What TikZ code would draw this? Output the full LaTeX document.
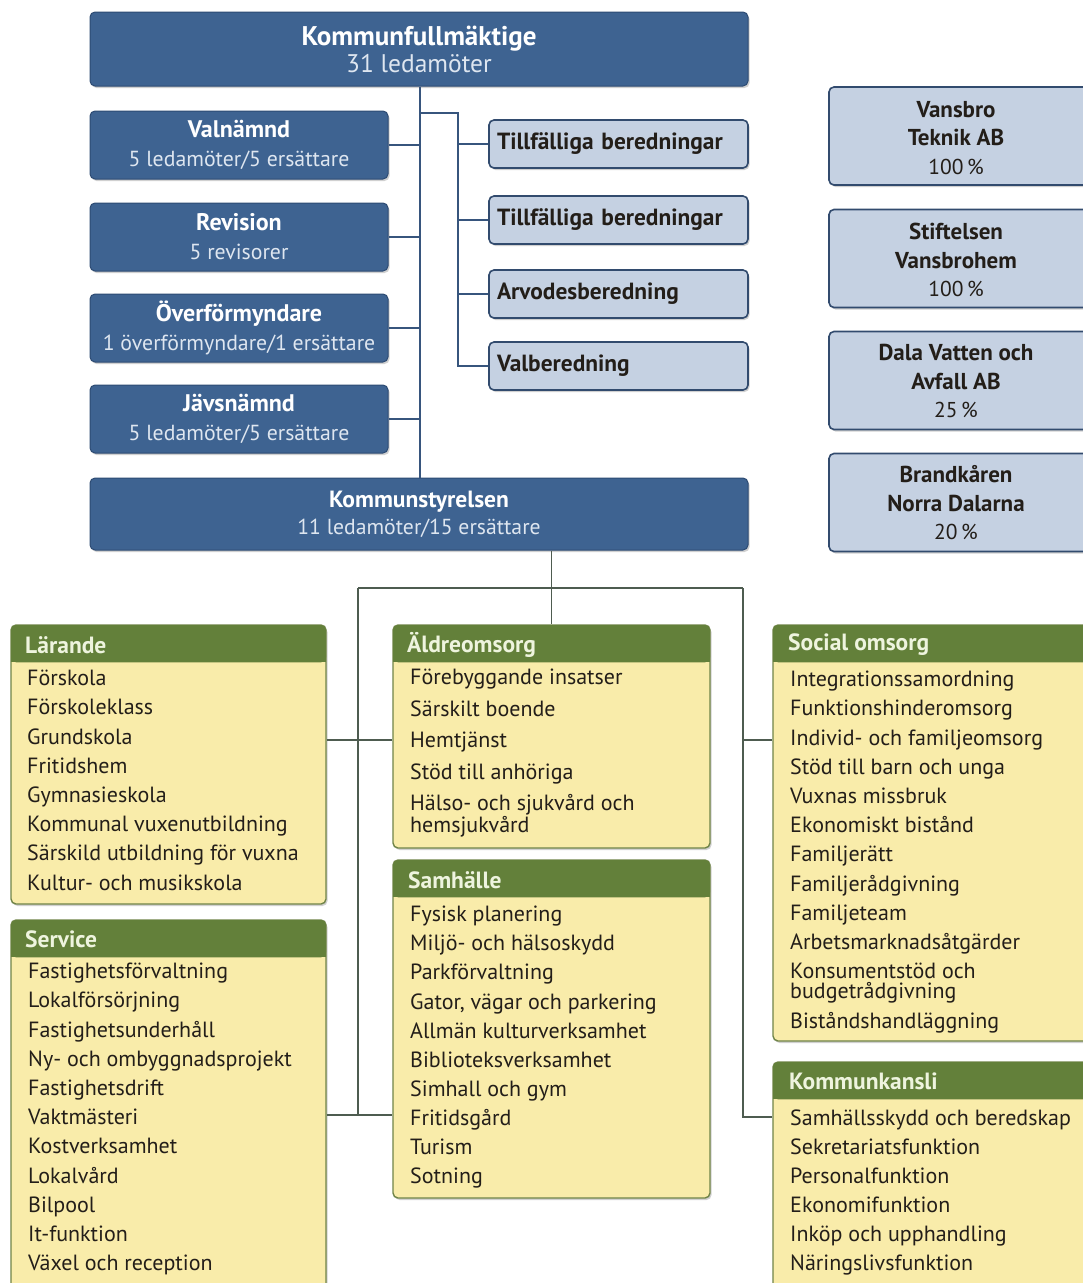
\documentclass[tikz,border=0pt]{standalone}
\usepackage{fontspec}
\setmainfont{PT Sans}
\usetikzlibrary{shadows}
\definecolor{kblue}{RGB}{62,99,145}
\definecolor{kbluedk}{RGB}{45,75,115}
\definecolor{lblue}{RGB}{197,209,226}
\definecolor{lbluedk}{RGB}{50,75,110}
\definecolor{hgreen}{RGB}{99,128,58}
\definecolor{gborder}{RGB}{112,132,72}
\definecolor{kyellow}{RGB}{249,236,170}
\definecolor{hdrtext}{RGB}{238,244,222}
\definecolor{subtext}{RGB}{222,230,240}
\definecolor{linetop}{RGB}{55,85,125}
\definecolor{linebot}{RGB}{78,92,80}
\definecolor{ktext}{RGB}{35,30,25}
\begin{document}
\begin{tikzpicture}[x=1pt,y=-1pt,
  shd/.style={drop shadow={shadow xshift=1.5pt,shadow yshift=-2pt,opacity=0.3,fill=black!60}},
  bluebox/.style={draw=kbluedk,line width=1pt,fill=kblue,rounded corners=5pt,text=subtext,align=center,inner sep=0pt,shd},
  lbox/.style={draw=lbluedk,line width=1.6pt,fill=lblue,rounded corners=5pt,text=ktext,align=left,inner xsep=8pt,inner ysep=0pt,text width=243pt,minimum width=259pt,minimum height=48pt,font=\fontsize{23.4}{26}\selectfont\bfseries,shd},
  cobox/.style={draw=lbluedk,line width=1.6pt,fill=lblue,rounded corners=5pt,minimum width=270pt,minimum height=98pt,shd},
  cotext/.style={align=center,text=ktext,inner sep=0pt,font=\fontsize{21.5}{28.5}\selectfont},
  gbox/.style={draw=gborder,line width=1.4pt,fill=kyellow,rounded corners=5pt,shd},
  htext/.style={anchor=west,text=hdrtext,inner sep=0pt,font=\fontsize{23.5}{26}\selectfont\bfseries},
  item/.style={anchor=west,text=ktext,inner sep=0pt,text height=15pt,text depth=4.5pt,yshift=-2.5pt,font=\fontsize{22}{26}\selectfont},
  ltop/.style={draw=linetop,line width=1.8pt},
  lbot/.style={draw=linebot,line width=1.5pt}
]
\useasboundingbox[fill=white] (0,0) rectangle (1083,1283);

% ---- top connectors
\coordinate (tx) at (420,0);
\coordinate (bx) at (458,113);

% ---- blue boxes
\node[bluebox,minimum width=658pt,minimum height=74pt,font=\fontsize{25.5}{27}\selectfont] (kf) at (419,49)
  {{\fontsize{27}{27}\selectfont\bfseries\color{white}Kommunfullmäktige}\\31 ledamöter};
\node[bluebox,minimum width=298pt,minimum height=68pt,font=\fontsize{21.8}{29}\selectfont] (vn) at (239,145)
  {{\fontsize{24}{29}\selectfont\bfseries\color{white}Valnämnd}\\5 ledamöter/5 ersättare};
\node[bluebox,minimum width=298pt,minimum height=68pt,font=\fontsize{21.8}{29}\selectfont] (rev) at (239,237)
  {{\fontsize{24}{29}\selectfont\bfseries\color{white}Revision}\\5 revisorer};
\node[bluebox,minimum width=298pt,minimum height=68pt,font=\fontsize{21.8}{29}\selectfont] (of) at (239,328)
  {{\fontsize{24}{29}\selectfont\bfseries\color{white}Överförmyndare}\\1 överförmyndare/1 ersättare};
\node[bluebox,minimum width=298pt,minimum height=68pt,font=\fontsize{21.8}{29}\selectfont] (jv) at (239,419)
  {{\fontsize{24}{29}\selectfont\bfseries\color{white}Jävsnämnd}\\5 ledamöter/5 ersättare};
\node[bluebox,minimum width=658pt,minimum height=72pt,font=\fontsize{21.7}{27}\selectfont] (ks) at (419,514)
  {{\fontsize{23.5}{27}\selectfont\bfseries\color{white}Kommunstyrelsen}\\11 ledamöter/15 ersättare};

% ---- light blue boxes
\node[lbox] (tb1) at (618.5,144) {Tillfälliga beredningar};
\node[lbox] (tb2) at (618.5,220) {Tillfälliga beredningar};
\node[lbox] (arv) at (618.5,294) {Arvodesberedning};
\node[lbox] (vb)  at (618.5,366) {Valberedning};

\draw[ltop] (kf.south -| tx) -- (ks.north -| tx);
\draw[ltop] (bx -| tx) -- (bx) -- (bx |- vb.west) -- (vb.west);
\foreach \n in {tb1,tb2,arv} \draw[ltop] (bx |- \n.west) -- (\n.west);
\foreach \n in {vn,rev,of,jv} \draw[ltop] (\n.east) -- (\n.east -| tx);

% ---- company boxes
\node[cobox] (c1) at (964,136) {};
\node[cotext] (c1t) at (956,138) {{\fontsize{23}{28.5}\selectfont\bfseries Vansbro}\\{\fontsize{23}{28.5}\selectfont\bfseries Teknik AB}\\100\,\%};
\node[cobox] (c2) at (964,258.5) {};
\node[cotext] (c2t) at (956,260) {{\fontsize{23}{28.5}\selectfont\bfseries Stiftelsen}\\{\fontsize{23}{28.5}\selectfont\bfseries Vansbrohem}\\100\,\%};
\node[cobox] (c3) at (964,380.5) {};
\node[cotext] (c3t) at (956,381) {{\fontsize{23}{28.5}\selectfont\bfseries Dala Vatten och}\\{\fontsize{23}{28.5}\selectfont\bfseries Avfall AB}\\25\,\%};
\node[cobox] (c4) at (964,502.5) {};
\node[cotext] (c4t) at (956,503) {{\fontsize{23}{28.5}\selectfont\bfseries Brandkåren}\\{\fontsize{23}{28.5}\selectfont\bfseries Norra Dalarna}\\20\,\%};

% ---- bottom connectors
\coordinate (hl) at (358,588);
\coordinate (hr) at (743,588);
\coordinate (jm) at (358,740);
\coordinate (jl) at (358,1115);
\coordinate (jr) at (743,1117);

% ---- green boxes
\node[gbox,minimum width=315pt,minimum height=279pt] (lar) at (168.5,764.5) {};
\node[gbox,minimum width=315pt,minimum height=375pt] (ser) at (168.5,1107.5) {};
\node[gbox,minimum width=317pt,minimum height=223pt] (ald) at (551.5,736.5) {};
\node[gbox,minimum width=317pt,minimum height=338pt] (sam) at (551.5,1029) {};
\node[gbox,minimum width=322pt,minimum height=416pt] (so) at (934,833) {};
\node[gbox,minimum width=322pt,minimum height=233pt] (kk) at (934,1178.5) {};

\draw[lbot] (ks.south -| ald.north) -- (ald.north);
\draw[lbot] (hl) -- (hr);
\draw[lbot] (hl) -- (jl);
\draw[lbot] (jm -| lar.east) -- (jm -| ald.west);
\draw[lbot] (jl -| ser.east) -- (jl -| sam.west);
\draw[lbot] (hr) -- (jr) -- (jr -| kk.west);
\draw[lbot] (hr |- jm) -- (jm -| so.west);

% headers
\foreach \b in {lar,ser,ald,sam,so,kk}{
  \fill[hgreen,rounded corners=5pt] ([xshift=0.7pt,yshift=-0.7pt]\b.north west) rectangle ([xshift=-0.7pt,yshift=-38pt]\b.north east);
  \fill[hgreen] ([xshift=0.7pt,yshift=-12pt]\b.north west) rectangle ([xshift=-0.7pt,yshift=-38pt]\b.north east);
}
\node[htext] (larh) at (25,645) {Lärande};
\node[htext] (serh) at (25,939) {Service};
\node[htext] (aldh) at (407,645) {Äldreomsorg};
\node[htext] (samh) at (408,880) {Samhälle};
\node[htext] (soh) at (788,645) {Social omsorg};
\node[htext] (kkh) at (789,1081) {Kommunkansli};

% items
\foreach \t [count=\i] in {Förskola,Förskoleklass,Grundskola,Fritidshem,Gymnasieskola,Kommunal vuxenutbildning,Särskild utbildning för vuxna,Kultur- och musikskola}
  \node[item] (lar\i) at (27,{678+(\i-1)*29.2}) {\t};
\foreach \t [count=\i] in {Fastighetsförvaltning,Lokalförsörjning,Fastighetsunderhåll,Ny- och ombyggnadsprojekt,Fastighetsdrift,Vaktmästeri,Kostverksamhet,Lokalvård,Bilpool,It-funktion,Växel och reception}
  \node[item] (ser\i) at (28,{971+(\i-1)*29.2}) {\t};
\foreach \t [count=\i] in {Förebyggande insatser,Särskilt boende,Hemtjänst,Stöd till anhöriga}
  \node[item] (ald\i) at (410,{677+(\i-1)*31.6}) {\t};
\node[item] (ald5a) at (410,803) {Hälso- och sjukvård och};
\node[item] (ald5b) at (410,825) {hemsjukvård};
\foreach \t [count=\i] in {Fysisk planering,Miljö- och hälsoskydd,Parkförvaltning,{Gator, vägar och parkering},Allmän kulturverksamhet,Biblioteksverksamhet,Simhall och gym,Fritidsgård,Turism,Sotning}
  \node[item] (sam\i) at (410,{914+(\i-1)*29.1}) {\t};
\foreach \t [count=\i] in {Integrationssamordning,Funktionshinderomsorg,Individ- och familjeomsorg,Stöd till barn och unga,Vuxnas missbruk,Ekonomiskt bistånd,Familjerätt,Familjerådgivning,Familjeteam,Arbetsmarknadsåtgärder}
  \node[item] (so\i) at (790,{679+(\i-1)*29.2}) {\t};
\node[item] (so11a) at (790,971) {Konsumentstöd och};
\node[item] (so11b) at (790,991) {budgetrådgivning};
\node[item] (so12) at (790,1021) {Biståndshandläggning};
\foreach \t [count=\i] in {Samhällsskydd och beredskap,Sekretariatsfunktion,Personalfunktion,Ekonomifunktion,Inköp och upphandling,Näringslivsfunktion}
  \node[item] (kk\i) at (790,{1118+(\i-1)*29}) {\t};
\end{tikzpicture}
\end{document}
